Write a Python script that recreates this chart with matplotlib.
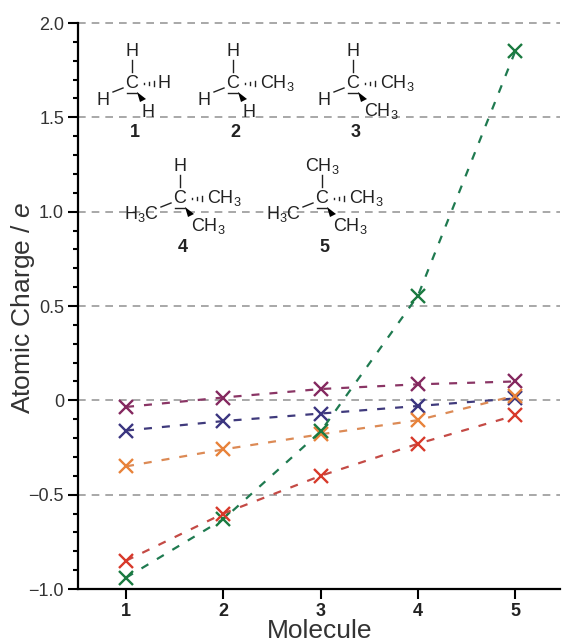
import matplotlib
matplotlib.use('Agg')
import matplotlib.pyplot as plt
from matplotlib.patches import Polygon

plt.rcParams['font.family'] = 'Liberation Sans'
plt.rcParams['mathtext.fontset'] = 'custom'
plt.rcParams['mathtext.rm'] = 'Liberation Sans'
plt.rcParams['mathtext.it'] = 'Liberation Sans:italic'
plt.rcParams['mathtext.bf'] = 'Liberation Sans:bold'
plt.rcParams['mathtext.default'] = 'regular'

molecules = [1, 2, 3, 4, 5]
green = [-0.94, -0.63, -0.165, 0.555, 1.85]
red = [-0.85, -0.60, -0.40, -0.23, -0.08]
orange = [-0.35, -0.26, -0.18, -0.105, 0.025]
navy = [-0.16, -0.11, -0.07, -0.03, 0.01]
maroon = [-0.035, 0.015, 0.06, 0.085, 0.10]

# back to front, (values, line colour, marker colour)
series = [
    (maroon, '#8a3565', '#84285f'),
    (navy, '#3f3a7c', '#3b3580'),
    (orange, '#dc8a55', '#e8823a'),
    (green, '#1f7a50', '#1a7a40'),
    (red, '#c44a45', '#d8392b'),
]

yticks = [-1.0, -0.5, 0, 0.5, 1.0, 1.5, 2.0]
ytick_labels = ['\u22121.0', '\u22120.5', '0', '0.5', '1.0', '1.5', '2.0']
grid_levels = [-0.5, 0, 0.5, 1.0, 1.5, 2.0]

W, H = 563, 644
fig = plt.figure(figsize=(W / 100, H / 100), dpi=100)
ax = fig.add_axes([78 / W, 1 - 589 / H, (560 - 78) / W, (589 - 23) / H])
ax.set_xlim(0.506, 5.46)
ax.set_ylim(-1.0, 2.0)

for level in grid_levels:
    ax.axhline(level, color='#999999', lw=1.2, dashes=(4.6, 3.6), zorder=1, clip_on=False)

for values, line_col, mark_col in series:
    ax.plot(molecules, values, color=line_col, lw=1.6, dashes=(3.6, 4.5), zorder=3)
    ax.plot(molecules, values, ls='none', marker='x', ms=9.5, mew=1.7, color=mark_col, zorder=3)

ax.spines['top'].set_visible(False)
ax.spines['right'].set_visible(False)
ax.spines['left'].set_linewidth(1.6)
ax.spines['bottom'].set_linewidth(1.6)
ax.set_xticks(molecules)
ax.set_xticklabels(molecules, fontsize=13, fontweight='bold', color='#222222')
ax.set_yticks(yticks)
ax.set_yticklabels(ytick_labels, fontsize=13, color='#333333')
ax.set_yticks([v / 10 for v in range(-10, 21)], minor=True)
ax.tick_params(axis='both', which='major', width=1.5, length=7, pad=3)
ax.tick_params(axis='y', which='minor', width=1.5, length=3.6)
ax.set_xlabel('Molecule', fontsize=19, color='#333333')
ax.xaxis.set_label_coords((320 - 78) / (560 - 78), -(630.5 - 589) / (589 - 23), transform=ax.transAxes)
ax.xaxis.label.set_va('center')
ax.set_ylabel('Atomic Charge / $\\mathit{e}$', fontsize=19, color='#333333')
ax.yaxis.set_label_coords(-(78 - 23) / (560 - 78), (589 - 307.5) / (589 - 23), transform=ax.transAxes)
ax.yaxis.label.set_va('center')

# overlay in pixel coordinates for the structure drawings
ov = fig.add_axes([0, 0, 1, 1], facecolor='none')
ov.set_xlim(0, W)
ov.set_ylim(H, 0)
ov.axis('off')

INK = '#222222'
CH3 = 'CH$_3$'
H3C = 'H$_3$C'


def label(x, y, s, ha='center'):
    ov.text(x, y, s, fontsize=13, color=INK, ha=ha, va='center', zorder=6)


def molecule(cx, cy, num, top, right, left, low):
    label(cx, cy, 'C')
    # top bond
    ov.plot([cx, cx], [cy - 23, cy - 11], color=INK, lw=1.0)
    label(cx, cy - 32, top)
    # hashed bond, right
    for dx, h in zip([12, 17, 22], [1, 3, 5]):
        ov.plot([cx + dx, cx + dx], [cy - h / 2, cy + h / 2], color=INK, lw=1.0)
    if right == 'H':
        label(cx + 32, cy, right)
    else:
        label(cx + 27, cy, right, ha='left')
    # left bond
    ov.plot([cx - 19, cx - 9], [cy + 9, cy + 5], color=INK, lw=1.0)
    if left == 'H':
        label(cx - 29, cy + 17, left)
    else:
        label(cx - 21, cy + 16, left, ha='right')
    # wedge bond with its short back line
    ov.plot([cx - 5, cx + 5], [cy + 10, cy + 10], color=INK, lw=1.0)
    ov.add_patch(Polygon([[cx + 5, cy + 9], [cx + 8, cy + 19], [cx + 14, cy + 16]], closed=True, color='black', lw=0))
    if low == 'H':
        label(cx + 16, cy + 29, low)
    else:
        label(cx + 11, cy + 28, low, ha='left')
    ov.text(cx + 2.5, cy + 49, str(num), fontsize=13, fontweight='bold', color=INK, ha='center', va='center')


molecule(132, 83, 1, 'H', 'H', 'H', 'H')
molecule(233, 83, 2, 'H', CH3, 'H', 'H')
molecule(353, 83, 3, 'H', CH3, 'H', CH3)
molecule(180, 198, 4, 'H', CH3, H3C, CH3)
molecule(322, 198, 5, CH3, CH3, H3C, CH3)

fig.savefig('out.png', dpi=100)
